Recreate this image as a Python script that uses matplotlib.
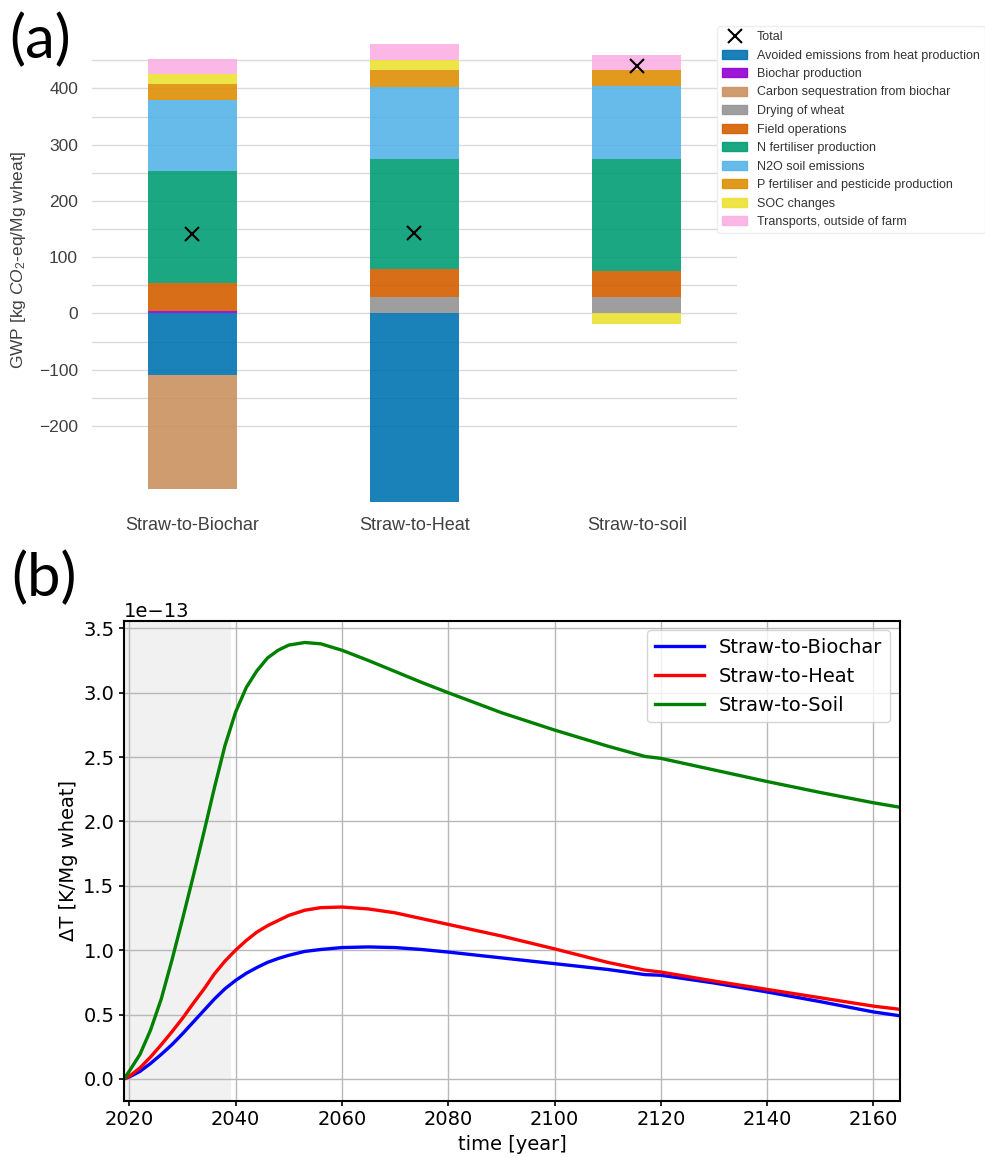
import numpy as np
import matplotlib
matplotlib.use('Agg')
import matplotlib.pyplot as plt
from matplotlib.lines import Line2D

# ---- (a) GWP per source, kg CO2-eq / Mg wheat ----
scenarios = ['Straw-to-Biochar', 'Straw-to-Heat', 'Straw-to-soil']
sources = [
    'Avoided emissions from heat production', 'Biochar production',
    'Carbon sequestration from biochar', 'Drying of wheat', 'Field operations',
    'N fertiliser production', 'N2O soil emissions',
    'P fertiliser and pesticide production', 'SOC changes',
    'Transports, outside of farm',
]
avoided_heat = [-109.6, -334.7, 0.0]
biochar_prod = [4.7, 0.0, 0.0]
carbon_seq = [-201.8, 0.0, 0.0]
drying = [0.0, 29.6, 29.6]
field_ops = [48.6, 48.6, 45.0]
n_fert = [199.1, 196.7, 199.1]
n2o_soil = [126.7, 126.8, 130.9]
p_fert = [27.9, 30.8, 27.9]
soc = [19.5, 18.9, -19.5]
transports = [25.5, 26.7, 26.6]
colors = ['#0173B2', '#9400D3', '#CA9161', '#949494', '#D55E00',
          '#029E73', '#56B4E9', '#DE8F05', '#ECE133', '#FBAFE4']

# ---- (b) temperature response, units of 1e-13 K / Mg wheat ----
years = [2019, 2020, 2022, 2024, 2026, 2028, 2030, 2032, 2034, 2036, 2038,
         2040, 2042, 2044, 2046, 2048, 2050, 2053, 2056, 2060, 2065, 2070,
         2075, 2080, 2090, 2100, 2110, 2117, 2120, 2130, 2140, 2150, 2160, 2165]
dt_biochar = [0.0, 0.015, 0.058, 0.12, 0.19, 0.265, 0.35, 0.44, 0.53, 0.62, 0.70,
              0.765, 0.82, 0.865, 0.905, 0.935, 0.96, 0.99, 1.005, 1.02, 1.025, 1.02,
              1.005, 0.985, 0.94, 0.895, 0.85, 0.81, 0.805, 0.745, 0.675, 0.60, 0.52, 0.49]
dt_heat = [0.0, 0.02, 0.085, 0.17, 0.265, 0.365, 0.47, 0.585, 0.695, 0.815, 0.915,
           1.00, 1.075, 1.14, 1.19, 1.23, 1.27, 1.31, 1.33, 1.335, 1.32, 1.29,
           1.245, 1.20, 1.11, 1.01, 0.905, 0.845, 0.83, 0.76, 0.695, 0.63, 0.565, 0.54]
dt_soil = [0.0, 0.06, 0.19, 0.38, 0.62, 0.92, 1.24, 1.57, 1.91, 2.26, 2.59,
           2.85, 3.04, 3.17, 3.27, 3.33, 3.37, 3.39, 3.38, 3.33, 3.25, 3.165,
           3.08, 3.00, 2.845, 2.71, 2.585, 2.505, 2.49, 2.40, 2.31, 2.225, 2.145, 2.11]
scale = 1e-13

plt.rcParams['mathtext.fontset'] = 'custom'
plt.rcParams['mathtext.rm'] = 'Liberation Sans'
plt.rcParams['mathtext.it'] = 'Liberation Sans:italic'

fig = plt.figure(figsize=(9.85, 11.58), dpi=100)

# ---------------- panel (a) ----------------
ax = fig.add_axes([0.0934, 0.5642, 0.6548, 0.3983])
vals = np.array([avoided_heat, biochar_prod, carbon_seq, drying, field_ops,
                 n_fert, n2o_soil, p_fert, soc, transports])
x = np.arange(len(scenarios))
pos_bottom = np.zeros(len(scenarios))
neg_bottom = np.zeros(len(scenarios))
handles = []
for name, row, col in zip(sources, vals, colors):
    bottom = np.where(row >= 0, pos_bottom, neg_bottom)
    ax.bar(x, row, 0.4, bottom=bottom, color=col, alpha=0.9, label=name,
           zorder=2)
    pos_bottom += np.where(row > 0, row, 0)
    neg_bottom += np.where(row < 0, row, 0)
    handles.append(plt.Rectangle((0, 0), 1, 1, color=col, alpha=0.9))

totals = vals.sum(axis=0)
ax.plot(x, totals, 'x', color='black', ms=9.5, mew=1.5, zorder=3)
tot_handle = Line2D([], [], marker='x', color='black', ls='none', ms=9.5, mew=1.5)

ax.set_xlim(-0.45, 2.45)
ax.set_ylim(-340, 480)
ax.set_yticks(np.arange(-200, 451, 50))
ax.set_yticklabels([str(v).replace('-', '\u2212') if v % 100 == 0 else ''
                    for v in range(-200, 451, 50)])
ax.set_xticks(x)
ax.set_xticklabels(scenarios)
for s in ax.spines.values():
    s.set_visible(False)
ax.tick_params(axis='both', length=0, labelsize=12.5, colors='0.25')
ax.tick_params(axis='y', pad=10)
ax.tick_params(axis='x', pad=9, labelsize=13)
for lab in ax.get_xticklabels() + ax.get_yticklabels():
    lab.set_family('Liberation Sans')
ax.grid(axis='y', color='0.86', lw=1.0)
ax.set_axisbelow(True)
ax.set_ylabel('GWP [kg $CO_2$-eq/Mg wheat]', fontsize=12.5, color='0.25',
              family='Liberation Sans')
ax.yaxis.set_label_coords(-0.10, 0.53)

leg = fig.legend([tot_handle] + handles, ['Total'] + sources,
                 loc='upper left', bbox_to_anchor=(717 / 985, 1 - 26 / 1158),
                 borderaxespad=0, prop={'family': 'Liberation Sans', 'size': 9},
                 labelspacing=0.52, frameon=True, fancybox=True, framealpha=1)
leg.get_frame().set_edgecolor('#eeeeee')
for t in leg.get_texts():
    t.set_color('0.2')

# ---------------- panel (b) ----------------
bx = fig.add_axes([0.1259, 0.0495, 0.7878, 0.4145])
bx.axvspan(2019, 2039, color='#f1f1f1', zorder=0)
bx.plot(years, np.array(dt_biochar) * scale, color='blue', lw=2.4,
        label='Straw-to-Biochar')
bx.plot(years, np.array(dt_heat) * scale, color='red', lw=2.4,
        label='Straw-to-Heat')
bx.plot(years, np.array(dt_soil) * scale, color='green', lw=2.4,
        label='Straw-to-Soil')
bx.set_xlim(2019, 2165)
bx.set_xticks(range(2020, 2161, 20))
bx.grid(True, color='#b8b8b8', lw=1.0)
bx.tick_params(labelsize=14, width=1.2)
bx.yaxis.get_offset_text().set_fontsize(14)
for s in bx.spines.values():
    s.set_linewidth(1.5)
bx.set_xlabel('time [year]', fontsize=14)
bx.set_ylabel('\u0394T [K/Mg wheat]', fontsize=14)
bx.legend(loc='upper right', fontsize=14, handlelength=2.5)

fig.text(9 / 985, 1 - 40 / 1158, '(a)', fontsize=43, family='Lato', va='center')
fig.text(11 / 985, 1 - 578 / 1158, '(b)', fontsize=43, family='Lato', va='center')

fig.savefig('out.png', dpi=100)
